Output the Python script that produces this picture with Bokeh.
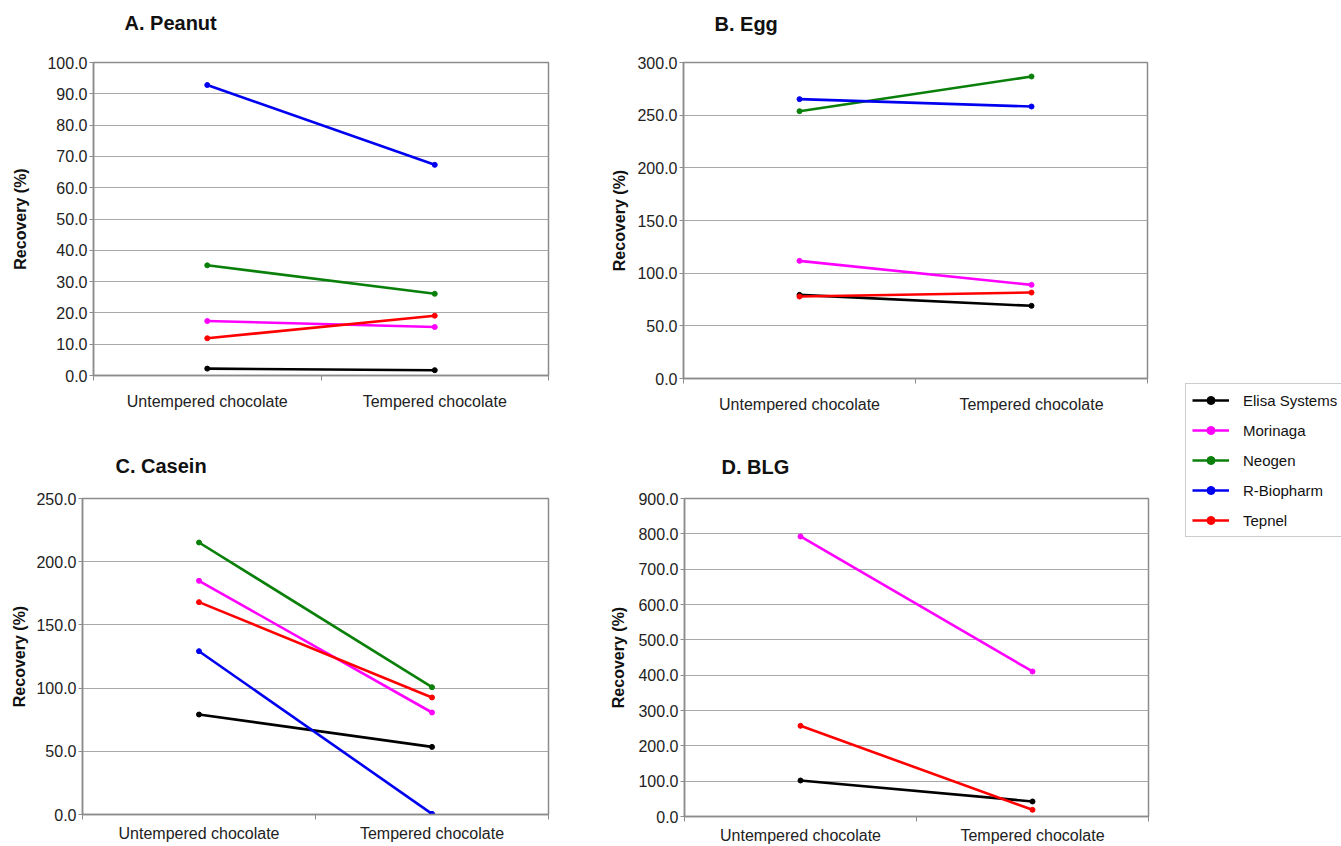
import math
from bokeh.plotting import figure
from bokeh.layouts import row, column
from bokeh.models import Range1d, FixedTicker, PrintfTickFormatter, Legend, LegendItem, Title
from bokeh.embed import file_html
from bokeh.resources import INLINE

# ---------------- data ----------------
conditions = ["Untempered chocolate", "Tempered chocolate"]
kits = ["Elisa Systems", "Morinaga", "Neogen", "R-Biopharm", "Tepnel"]
kit_colors = ["#000000", "#ff00ff", "#0a800a", "#0000f0", "#ff0000"]

peanut_untempered = [2.2, 17.4, 35.2, 92.8, 11.9]
peanut_tempered = [1.7, 15.5, 26.1, 67.3, 19.1]

egg_untempered = [79.4, 111.7, 253.8, 265.2, 77.8]
egg_tempered = [69.0, 88.9, 286.7, 258.2, 81.6]

casein_untempered = [79.1, 184.9, 215.2, 129.2, 168.0]
casein_tempered = [53.5, 80.7, 100.7, 0.5, 92.6]

blg_untempered = [101.9, 792.5, None, None, 256.6]
blg_tempered = [42.5, 410.4, None, None, 18.9]

panel_titles = ["A. Peanut", "B. Egg", "C. Casein", "D. BLG"]
panel_ymax = [100, 300, 250, 900]
panel_ystep = [10, 50, 50, 100]
y_axis_label = "Recovery (%)"

panel_data = [
    (peanut_untempered, peanut_tempered),
    (egg_untempered, egg_tempered),
    (casein_untempered, casein_tempered),
    (blg_untempered, blg_tempered),
]

# ---------------- layout / style ----------------
FONT = "Liberation Sans"
GRID = "#a8a8a8"
FRAME = "#8c8c8c"

# (min_left, frame_w, min_right, min_top, frame_h, min_bottom,
#  title_offset, title_gap, ylabel_standoff, xlabel_standoff)
geom = [
    (93, 455, 52, 62, 313, 55, 31, 23, 15, 12),
    (83, 464, 23, 61, 316, 53, 31, 22, 6, 12),
    (82, 466, 52, 68, 316, 31, 33, 16, 5, 5),
    (84, 464, 22, 67, 318, 30, 37, 15, 8, 5),
]

x_centers = [i + 0.5 for i in range(len(conditions))]
x_bounds = [i for i in range(len(conditions) + 1)]


def make_panel(k):
    ml, fw, mr, mt, fh, mb, toff, tgap, ylst, xlst = geom[k]
    ymax, ystep = panel_ymax[k], panel_ystep[k]
    p = figure(
        frame_width=fw, frame_height=fh,
        min_border_left=ml, min_border_right=mr,
        min_border_top=mt, min_border_bottom=mb,
        x_range=Range1d(0, len(conditions)), y_range=Range1d(0, ymax),
        toolbar_location=None, output_backend="svg",
        title=panel_titles[k],
    )
    p.title.text_font = FONT
    p.title.text_font_size = "20px"
    p.title.text_font_style = "bold"
    p.title.text_color = "#111111"
    p.title.align = "left"
    p.title.offset = toff
    p.title.standoff = 6
    # invisible spacer between title and frame
    p.add_layout(Title(text=" ", text_font_size="1px", standoff=tgap), "above")

    p.background_fill_color = "white"
    p.border_fill_color = "white"
    p.outline_line_color = FRAME
    p.outline_line_width = 1.5

    # x axis
    xa = p.xaxis[0]
    xa.ticker = FixedTicker(ticks=x_centers, minor_ticks=x_bounds)
    xa.major_label_overrides = {x_centers[i]: conditions[i] for i in range(len(conditions))}
    xa.major_tick_out = 0
    xa.major_tick_in = 0
    xa.minor_tick_out = 5
    xa.minor_tick_in = 0
    xa.minor_tick_line_color = FRAME
    xa.axis_line_color = FRAME
    xa.axis_line_width = 1.5
    xa.major_label_text_font = FONT
    xa.major_label_text_font_size = "16px"
    xa.major_label_text_color = "#222222"
    xa.major_label_standoff = xlst

    # y axis
    ya = p.yaxis[0]
    ya.ticker = FixedTicker(ticks=list(range(0, ymax + ystep, ystep)))
    ya.formatter = PrintfTickFormatter(format="%.1f")
    ya.major_tick_out = 4
    ya.major_tick_in = 0
    ya.minor_tick_line_color = None
    ya.major_tick_line_color = FRAME
    ya.axis_line_color = FRAME
    ya.axis_line_width = 1.5
    ya.major_label_text_font = FONT
    ya.major_label_text_font_size = "16px"
    ya.major_label_text_color = "#222222"
    ya.major_label_standoff = 2
    ya.axis_label = y_axis_label
    ya.axis_label_text_font = FONT
    ya.axis_label_text_font_size = "16px"
    ya.axis_label_text_font_style = "bold"
    ya.axis_label_text_color = "#111111"
    ya.axis_label_standoff = ylst

    p.xgrid.grid_line_color = None
    p.ygrid.grid_line_color = GRID
    p.ygrid.grid_line_width = 1.2

    unt, tem = panel_data[k]
    for i, kit in enumerate(kits):
        ys = [unt[i], tem[i]]
        if any(v is None for v in ys):
            continue
        p.line(x_centers, ys, line_color=kit_colors[i], line_width=2.6)
        p.scatter(x_centers, ys, size=5, marker="circle",
                  fill_color=kit_colors[i], line_color=kit_colors[i])
    return p


panels = [make_panel(k) for k in range(4)]

# legend figure
lg = figure(width=171, height=846, x_range=Range1d(0, 1), y_range=Range1d(0, 1),
            min_border=0, toolbar_location=None, output_backend="svg")
lg.axis.visible = False
lg.grid.visible = False
lg.outline_line_color = None
lg.background_fill_color = "white"
lg.border_fill_color = "white"
items = []
for i, kit in enumerate(kits):
    r1 = lg.line([math.nan], [math.nan], line_color=kit_colors[i], line_width=2.6)
    r2 = lg.scatter([math.nan], [math.nan], size=5, marker="circle",
                    fill_color=kit_colors[i], line_color=kit_colors[i])
    items.append(LegendItem(label=kit, renderers=[r1, r2]))
legend = Legend(items=items, location=(15, 309), margin=0, padding=6,
                spacing=10, glyph_width=37, glyph_height=20, label_height=20,
                label_standoff=14, border_line_color="#9a9a9a", border_line_width=1.2,
                label_text_font=FONT, label_text_font_size="15px",
                label_text_color="#111111", background_fill_alpha=1.0)
lg.add_layout(legend, "center")

layout = row(column(row(panels[0], panels[1]), row(panels[2], panels[3])), lg)

open("out.html", "w").write(file_html(layout, INLINE))
